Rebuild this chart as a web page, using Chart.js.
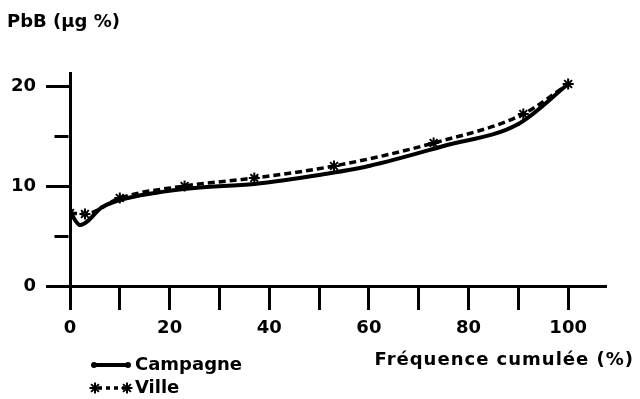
<!DOCTYPE html>
<html>
<head>
<meta charset="utf-8">
<script src="https://cdn.jsdelivr.net/npm/chart.js@4/dist/chart.umd.min.js"></script>
<style>
  html, body { margin: 0; padding: 0; background: #fff; }
  #cadre { width: 640px; height: 399px; }
</style>
</head>
<body>
<div id="cadre"><canvas id="graphique"></canvas></div>
<script>
// Valeurs
const frequenceCampagne = [0, 2, 6.5, 10, 17, 25, 37, 50, 60, 75, 90, 100];
const plombCampagne     = [7.4, 6.1, 7.9, 8.6, 9.3, 9.8, 10.2, 11.1, 12.0, 14.0, 16.2, 20.2];

const frequenceVille = [0, 3, 10, 23, 37, 53, 73, 91, 100];
const plombVille     = [7.3, 7.2, 8.8, 10.0, 10.8, 12.0, 14.3, 17.2, 20.2];

const ticksX = [0, 20, 40, 60, 80, 100];
const ticksY = [0, 10, 20];

const policeGras = "bold 18px 'DejaVu Sans'";
const etoile = { pointStyle: 'star', radius: 5.5, borderWidth: 2 };

// Textes de la figure : titre de l'axe Y, légende, titre de l'axe X
const textesFigure = {
  id: 'textesFigure',
  afterDraw(chart) {
    const ctx = chart.ctx;
    ctx.save();
    ctx.fillStyle = '#000';
    ctx.font = policeGras;
    ctx.textBaseline = 'middle';
    ctx.textAlign = 'left';
    ctx.fillText('PbB (µg %)', 7, 22);

    // échantillons de la légende
    ctx.strokeStyle = '#000';
    ctx.lineWidth = 4;
    ctx.beginPath(); ctx.moveTo(93, 365); ctx.lineTo(129, 365); ctx.stroke();
    ctx.beginPath(); ctx.arc(94, 365, 3, 0, 2 * Math.PI); ctx.fill();
    ctx.beginPath(); ctx.arc(128, 365, 3, 0, 2 * Math.PI); ctx.fill();

    ctx.lineWidth = 3.5;
    ctx.setLineDash([4, 4]);
    ctx.beginPath(); ctx.moveTo(98, 388); ctx.lineTo(124, 388); ctx.stroke();
    ctx.setLineDash([]);
    ctx.lineWidth = etoile.borderWidth;
    Chart.helpers.drawPoint(ctx, etoile, 95, 388);
    Chart.helpers.drawPoint(ctx, etoile, 127, 388);

    ctx.fillText('Campagne', 135, 365);
    ctx.fillText('Ville', 135, 388);

    ctx.textAlign = 'right';
    ctx.letterSpacing = '1px';
    ctx.fillText('Fréquence cumulée (%)', 634, 360);
    ctx.restore();
  }
};

new Chart(document.getElementById('graphique'), {
  type: 'line',
  data: {
    datasets: [
      {
        label: 'Campagne',
        data: frequenceCampagne.map((f, i) => ({ x: f, y: plombCampagne[i] })),
        borderColor: '#000',
        backgroundColor: '#000',
        borderWidth: 4,
        pointRadius: 2,
        pointBorderWidth: 0,
        pointStyle: 'circle',
        cubicInterpolationMode: 'monotone',
        fill: false
      },
      {
        label: 'Ville',
        data: frequenceVille.map((f, i) => ({ x: f, y: plombVille[i] })),
        borderColor: '#000',
        backgroundColor: '#000',
        borderWidth: 3.5,
        borderDash: [7, 4],
        pointRadius: etoile.radius,
        pointBorderWidth: etoile.borderWidth,
        pointStyle: etoile.pointStyle,
        cubicInterpolationMode: 'monotone',
        fill: false
      }
    ]
  },
  plugins: [textesFigure],
  options: {
    responsive: true,
    maintainAspectRatio: false,
    animation: false,
    layout: { padding: { left: 0, right: 34, top: 73, bottom: 0 } },
    plugins: {
      legend: { display: false },
      title: { display: false },
      tooltip: { enabled: false }
    },
    scales: {
      x: {
        type: 'linear',
        min: 0,
        max: 107.6,
        afterFit: s => { s.height = 113; },
        border: { display: true, color: '#000', width: 3 },
        grid: { drawOnChartArea: false, drawTicks: true, tickLength: 24, tickWidth: 3, tickColor: '#000' },
        ticks: {
          stepSize: 10,
          includeBounds: false,
          color: '#000',
          font: { family: 'DejaVu Sans', size: 18, weight: 'bold' },
          padding: 8,
          maxRotation: 0,
          autoSkip: false,
          callback: v => ticksX.includes(v) ? String(v) : ''
        }
      },
      y: {
        min: 0,
        max: 21.3,
        afterFit: s => { s.width = 70; },
        border: { display: true, color: '#000', width: 3 },
        grid: {
          drawOnChartArea: false, drawTicks: true, tickLength: 24, tickWidth: 3, tickColor: '#000',
          tickBorderDash: c => (c.tick && c.tick.value % 10 !== 0) ? [0, 8.5, 14, 100] : []
        },
        ticks: {
          stepSize: 5,
          includeBounds: false,
          color: '#000',
          font: { family: 'DejaVu Sans', size: 18, weight: 'bold' },
          padding: 10,
          autoSkip: false,
          callback: v => ticksY.includes(v) ? String(v) : ''
        }
      }
    }
  }
});
</script>
</body>
</html>
